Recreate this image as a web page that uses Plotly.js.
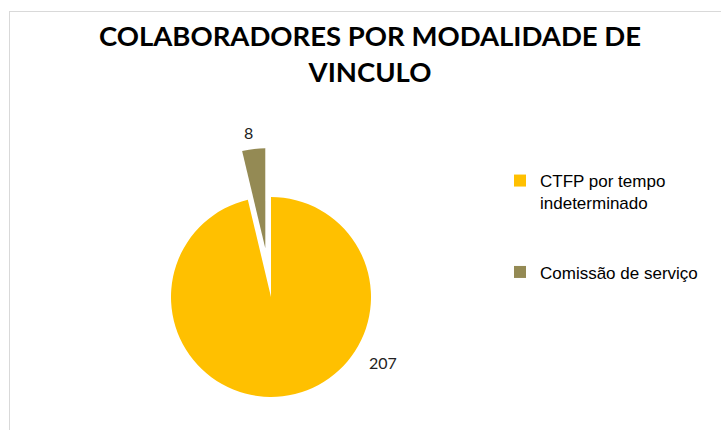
<!DOCTYPE html>
<html>
<head>
<meta charset="utf-8">
<script src="https://cdn.plot.ly/plotly-3.0.1.min.js"></script>
<style>
html, body { margin: 0; padding: 0; width: 721px; height: 430px; overflow: hidden; background: #fff; }
#wrap { position: relative; width: 721px; height: 430px; overflow: hidden; }
#chart { position: absolute; left: 0; top: 0; }
#frame { position: absolute; left: 9px; top: 11px; width: 730px; height: 440px; border-top: 1px solid #d9d9d9; border-left: 1px solid #d9d9d9; pointer-events: none; }
</style>
</head>
<body>
<div id="wrap">
  <div id="chart"></div>
  <div id="frame"></div>
</div>
<script>
const categories = ["CTFP por tempo<br>indeterminado", "Comissão de serviço"];
const values = [207, 8];
const colors = ["#FFC000", "#948A54"];
const pulls = [0, 0.49];

// extra blank lines after the first entry reproduce the legend's wide spacing
const legendLabels = categories.map((c, i) => i === 0 ? c + "<br>&nbsp;<br>&nbsp;" : c);

const data = [{
  type: "pie",
  labels: legendLabels,
  values: values,
  marker: { colors: colors, line: { width: 0 } },
  pull: pulls,
  sort: false,
  direction: "clockwise",
  rotation: 0,
  textinfo: "none",
  hovertemplate: "%{value}<extra></extra>",
  domain: { x: [0, 542 / 721], y: [0, 1] }
}];

const W = 721, TOP = 148, BOT = 446, H = BOT - TOP;
const py = y => (BOT - y) / H;
const labelFont = { family: "Lato, 'Open Sans', sans-serif", size: 16, color: "#222222" };

const layout = {
  width: 721,
  height: 460,
  margin: { l: 0, r: 0, t: TOP, b: 460 - BOT },
  paper_bgcolor: "#ffffff",
  title: {
    text: "<b>COLABORADORES POR MODALIDADE DE<br>VINCULO</b>",
    font: { family: "Lato, 'Open Sans', sans-serif", size: 27.5, color: "#000000" },
    x: 370 / W, xref: "container", xanchor: "center",
    y: 1 - 46 / 460, yref: "container", yanchor: "top"
  },
  showlegend: true,
  legend: {
    x: 500 / W, xanchor: "left",
    y: py(163), yanchor: "top",
    valign: "top",
    font: { family: "'Liberation Sans', Arial, sans-serif", size: 17, color: "#000000" },
    bgcolor: "rgba(0,0,0,0)"
  },
  annotations: [
    { text: String(values[0]), x: 383 / W, y: py(362), xref: "paper", yref: "paper",
      xanchor: "center", yanchor: "middle", showarrow: false, font: labelFont },
    { text: String(values[1]), x: 248 / W, y: py(132), xref: "paper", yref: "paper",
      xanchor: "center", yanchor: "middle", showarrow: false, font: labelFont }
  ]
};

Plotly.newPlot("chart", data, layout, { displayModeBar: false });
</script>
</body>
</html>
